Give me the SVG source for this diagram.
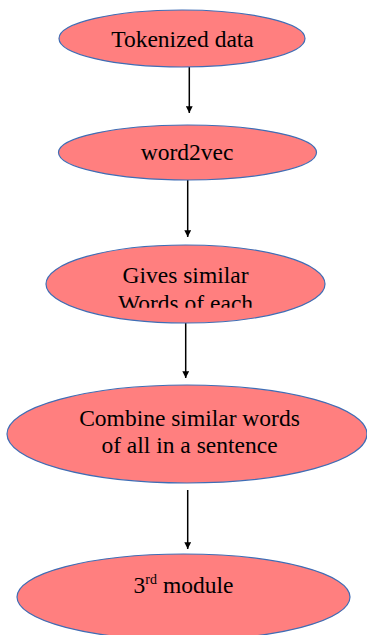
<svg xmlns="http://www.w3.org/2000/svg" width="367" height="635" viewBox="0 0 367 635">
<style>
.node{fill:#FF7F7F;stroke:#3F6DB5;stroke-width:1.2}
.lbl{font-family:'Liberation Serif','DejaVu Serif',serif;font-size:23.5px;fill:#000;text-anchor:middle}
.sup{font-size:14px}
.edge{stroke:#000;stroke-width:1.5;fill:none;marker-end:url(#ah)}
</style>
<defs>
<marker id="ah" viewBox="0 0 10 10" refX="10" refY="5" markerWidth="4.5" markerHeight="4.5" orient="auto" markerUnits="strokeWidth">
<path d="M0,0 L10,5 L0,10 z" fill="#000"/>
</marker>
<clipPath id="clip3"><rect x="0" y="240" width="367" height="67.7"/></clipPath>
</defs>
<rect width="367" height="635" fill="#fff"/>
<g id="connectors">
<line class="edge" x1="189.3" y1="67" x2="189.3" y2="113"/>
<line class="edge" x1="187.7" y1="180" x2="187.7" y2="237"/>
<line class="edge" x1="185.7" y1="323" x2="185.7" y2="378"/>
<line class="edge" x1="187.7" y1="490" x2="187.7" y2="549"/>
</g>
<g id="n1">
<ellipse class="node" cx="182" cy="38.5" rx="123" ry="28.5"/>
<text class="lbl" x="182.5" y="46.7">Tokenized data</text>
</g>
<g id="n2">
<ellipse class="node" cx="187.5" cy="152.5" rx="129" ry="27.5"/>
<text class="lbl" x="187" y="160">word2vec</text>
</g>
<g id="n3">
<ellipse class="node" cx="185.5" cy="284" rx="139.5" ry="39"/>
<text class="lbl" x="185.5" y="283.3">Gives similar</text>
<text class="lbl" x="185.5" y="311" clip-path="url(#clip3)">Words of each</text>
</g>
<g id="n4">
<ellipse class="node" cx="187" cy="434" rx="180" ry="49"/>
<text class="lbl" x="189.5" y="425.7">Combine similar words</text>
<text class="lbl" x="189.5" y="452.7">of all in a sentence</text>
</g>
<g id="n5">
<ellipse class="node" cx="183.5" cy="597" rx="166.5" ry="43"/>
<text class="lbl" x="183.5" y="593">3<tspan class="sup" dy="-9">rd</tspan><tspan dy="9"> module</tspan></text>
</g>
</svg>
